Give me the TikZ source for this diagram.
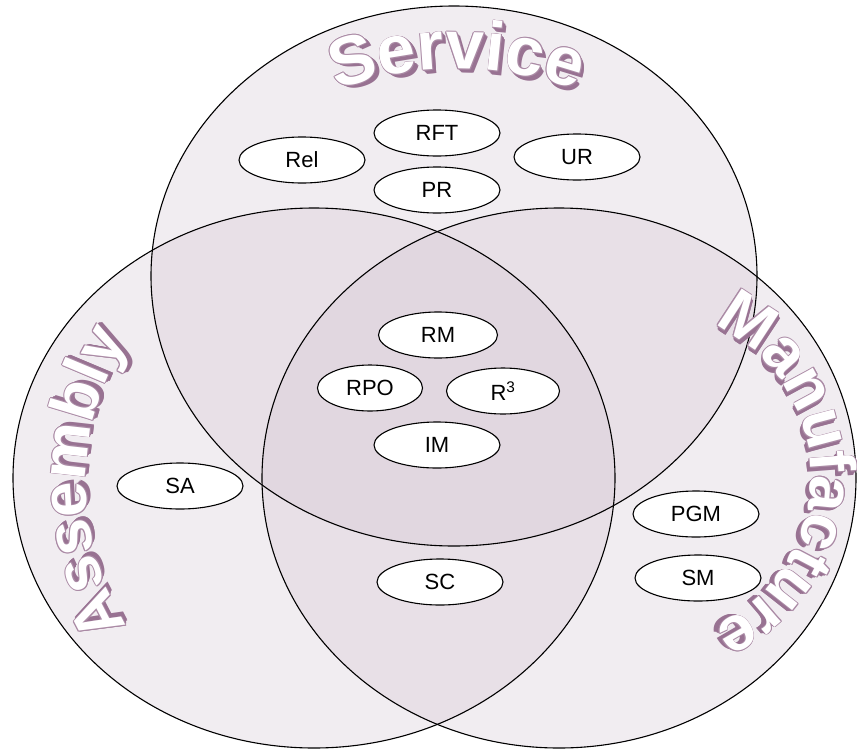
\documentclass[tikz,border=0pt]{standalone}
\usepackage{fontspec}
\setmainfont{Liberation Sans}
\newfontfamily\wordfont{Liberation Sans}

\definecolor{wfill}{RGB}{210,194,208}
\definecolor{wshade}{RGB}{152,114,146}
\definecolor{wline}{RGB}{170,138,165}

% size of the arched set names (set per word)
\def\wfs{63}

% Arched word: #1 centre coordinate, #2 baseline radius, #3 middle angle,
% #4 font size, #5 list of letter/advance (advance in em); letters run clockwise.
\newcommand\arcword[5]{%
  \def\wfs{#4}%
  \xdef\awtot{0}%
  \foreach \ch/\lw in {#5}{%
    \pgfmathparse{\awtot+\lw}\xdef\awtot{\pgfmathresult}}%
  \pgfmathparse{#3+deg(\awtot*\wfs/2/#2)}\xdef\awcur{\pgfmathresult}%
  \foreach \ch/\lw in {#5}{%
    \pgfmathsetmacro\awang{\awcur-deg(\lw*\wfs/2/#2)}%
    \pgfmathsetmacro\awrot{\awang-90}%
    \begin{scope}[shift={(#1)}, shift={(\awang:#2)}, rotate=\awrot]
      \foreach \sk in {0.5,1,...,4}
        \node[wletter, text=wshade] at (\sk,-\sk) {\ch};
      \foreach \oa in {0,45,...,315}
        \node[wletter, text=wline] at (\oa:0.8) {\ch};
      \node[wletter, text=white] at (0,0) {\ch};
    \end{scope}
    \pgfmathparse{\awcur-deg(\lw*\wfs/#2)}\xdef\awcur{\pgfmathresult}%
  }%
}

\begin{document}
\begin{tikzpicture}[x=1pt, y=1pt,
  setline/.style={draw=black, line width=1.1pt},
  setfill/.style={fill=wfill, opacity=0.3},
  wletter/.style={anchor=base, inner sep=0pt, outer sep=0pt, transform shape,
    font=\wordfont\bfseries\fontsize{\wfs}{\wfs}\selectfont},
  tag/.style={ellipse, draw=black, fill=white, line width=1.1pt,
    minimum width=126pt, minimum height=46pt, inner sep=0pt,
    font=\fontsize{22}{26}\selectfont}]
\usetikzlibrary{shapes.geometric}
\useasboundingbox (0,0) rectangle (857,-753);

% centres of the three sets
\coordinate (svc) at (454,-276);
\coordinate (asm) at (314,-478);
\coordinate (man) at (559,-478);

% translucent fills, then outlines on top
\fill[setfill] (svc) ellipse [x radius=303, y radius=270];
\fill[setfill] (asm) ellipse [x radius=301, y radius=270];
\fill[setfill] (man) ellipse [x radius=297, y radius=270];
\draw[setline] (svc) ellipse [x radius=303, y radius=270];
\draw[setline] (asm) ellipse [x radius=301, y radius=270];
\draw[setline] (man) ellipse [x radius=297, y radius=270];

% set names
\coordinate (svcarc) at (457,-421);
\coordinate (asmarc) at (354,-483);
\coordinate (manarc) at (646,-476);
\arcword{svcarc}{352}{90}{69}{S/0.667,e/0.556,r/0.389,v/0.556,i/0.278,c/0.556,e/0.556}
\arcword{asmarc}{268}{180}{64}{A/0.722,s/0.556,s/0.556,e/0.556,m/0.889,b/0.611,l/0.278,y/0.556}
\arcword{manarc}{165}{0}{64}{M/0.833,a/0.556,n/0.611,u/0.611,f/0.333,a/0.556,c/0.556,t/0.333,u/0.611,r/0.389,e/0.556}

% members
\node[tag] (RFT) at (437,-133) {RFT};
\node[tag] (Rel) at (302,-160) {Rel};
\node[tag] (UR)  at (577,-157) {UR};
\node[tag] (PR)  at (437,-190) {PR};
\node[tag, minimum width=119pt] (RM)  at (438,-335) {RM};
\node[tag, minimum width=105pt] (RPO) at (370,-388) {RPO};
\node[tag, minimum width=113pt] (R3)  at (503,-391) {R\textsuperscript{3}};
\node[tag] (IM)  at (437,-445) {IM};
\node[tag] (SA)  at (180,-486) {SA};
\node[tag] (SC)  at (440,-582) {SC};
\node[tag] (PGM) at (696,-514) {PGM};
\node[tag] (SM)  at (698,-578) {SM};
\end{tikzpicture}
\end{document}
